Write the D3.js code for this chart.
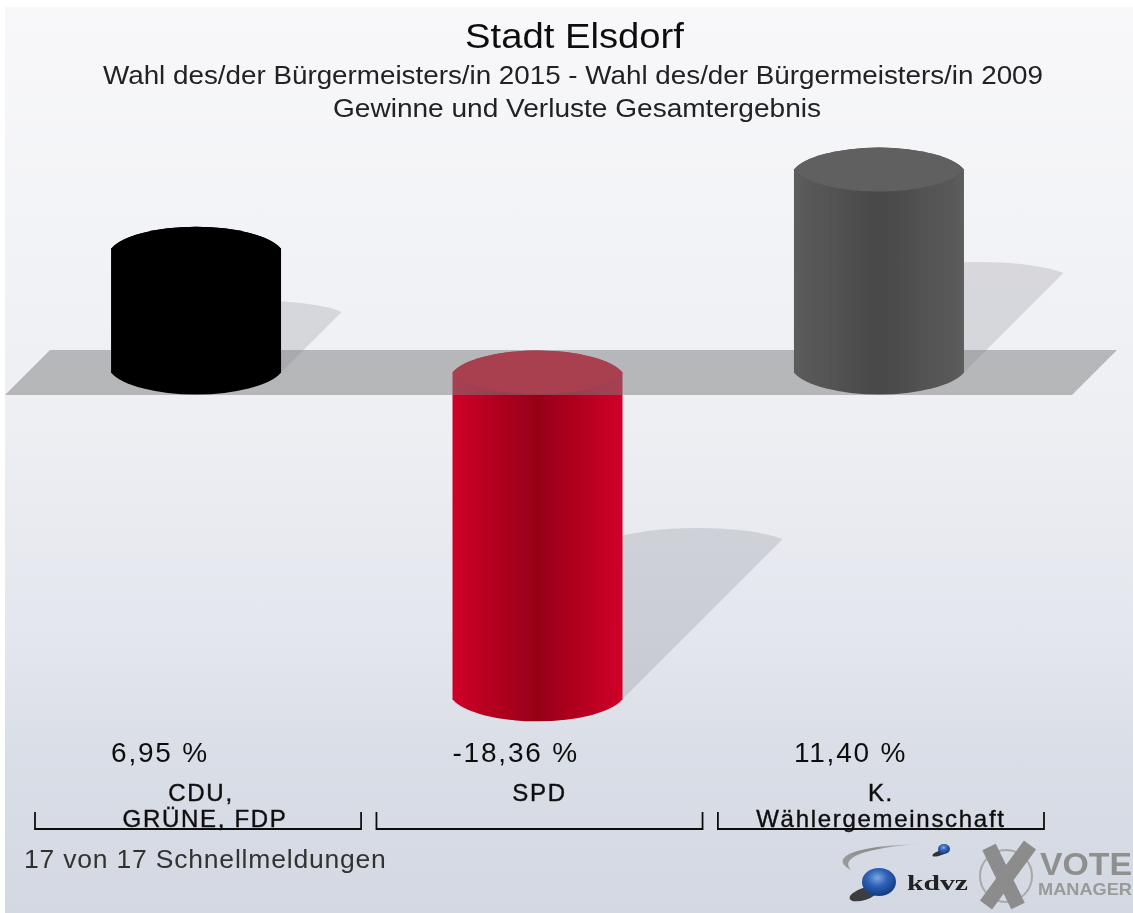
<!DOCTYPE html>
<html><head><meta charset="utf-8">
<script src="https://cdn.jsdelivr.net/npm/d3@7"></script>
<style>html,body{margin:0;padding:0;background:#fff;overflow:hidden}svg{display:block}text{font-family:"Liberation Sans",Arial,sans-serif}</style>
</head><body><svg id="c" width="1133" height="913"></svg>
<script>
const titleLines = ["Stadt Elsdorf","Wahl des/der Bürgermeisters/in 2015 - Wahl des/der Bürgermeisters/in 2009","Gewinne und Verluste Gesamtergebnis"];
const categories = ["CDU, GRÜNE, FDP","SPD","K. Wählergemeinschaft"];
const categoryLines = [["CDU,","GRÜNE, FDP"],["SPD"],["K.","Wählergemeinschaft"]];
const values = [6.95,-18.36,11.40];
const valueLabels = ["6,95 %","-18,36 %","11,40 %"];
const sideColors = [["#000000","#000000"],["#d00028","#960018"],["#5c5c5c","#484848"]];
const topColors = ["#000000","#d20020","#606060"];
const footer = "17 von 17 Schnellmeldungen";

const W=1133,H=913;
const svg=d3.select("#c");
const defs=svg.append("defs");
const bg=defs.append("linearGradient").attr("id","bg").attr("x1",0).attr("x2",0).attr("y1",0).attr("y2",1);
[[0,"#f8f8fa"],[.45,"#edeff3"],[.7,"#e3e6ed"],[.82,"#dadee7"],[1,"#d3d8e2"]].forEach(s=>bg.append("stop").attr("offset",s[0]).attr("stop-color",s[1]));
const blur=defs.append("filter").attr("id","soft").attr("x",0).attr("y",0).attr("width",1).attr("height",1);
blur.append("feGaussianBlur").attr("stdDeviation",0.6);
categories.forEach((c,i)=>{
  const g=defs.append("linearGradient").attr("id","side"+i);
  [[0,0],[.5,1],[1,0]].forEach(s=>g.append("stop").attr("offset",s[0]).attr("stop-color",sideColors[i][s[1]]));
});

const root=svg.append("g").attr("filter","url(#soft)");
root.append("rect").attr("x",5).attr("y",7).attr("width",W-5).attr("height",H-7).attr("fill","url(#bg)");

const x=d3.scaleBand().domain(categories).range([35,1044]).paddingInner(0.045);
const y=d3.scaleLinear().domain([0,1]).range([372.5,372.5-17.8]);
const hw=85, arcRx=88, arcRy=29.7;
const cx=c=>x(c)+x.bandwidth()/2-2;

// shadows
const shadowPath=(c,v)=>{
  const h=Math.abs(y(v)-y(0)), d=h*0.49, bx=cx(c)+hw, by=v>=0?y(0):y(v);
  return `M${bx},${by}L${bx+d},${by-d}A95,20 0 0 0 ${bx+d-2*hw},${by-d}L${bx-2*hw},${by}Z`;
};
root.selectAll(".shadow").data(categories).join("path").attr("class","shadow")
  .attr("d",(c,i)=>shadowPath(c,values[i])).attr("fill","#3c3c46").attr("fill-opacity",.14);

const body=(c,v)=>{
  const xc=cx(c), y0=Math.min(y(0),y(v)), y1=Math.max(y(0),y(v));
  return `M${xc-hw},${y0}A${arcRx},${arcRy} 0 0 1 ${xc+hw},${y0}L${xc+hw},${y1}A${arcRx},${arcRy} 0 0 1 ${xc-hw},${y1}Z`;
};
const lens=(c,v)=>{
  const xc=cx(c), y0=Math.min(y(0),y(v));
  return `M${xc-hw},${y0}A${arcRx},${arcRy} 0 0 1 ${xc+hw},${y0}A${arcRx},${arcRy} 0 0 1 ${xc-hw},${y0}Z`;
};
function cyl(sel,idx){
  idx.forEach(i=>{
    const c=categories[i],v=values[i];
    sel.append("path").attr("d",body(c,v)).attr("fill",`url(#side${i})`);
    sel.append("path").attr("d",lens(c,v)).attr("fill",topColors[i]);
  });
}
// negative bars sit under the ground plane, positive bars in front of it
cyl(root.append("g"),values.map((v,i)=>v<0?i:-1).filter(i=>i>=0));
root.append("path").attr("d","M50,350L1117,350L1072,395L5,395Z").attr("fill","#7d7d80").attr("fill-opacity",.5);
cyl(root.append("g"),values.map((v,i)=>v>=0?i:-1).filter(i=>i>=0));

// titles
const tt=root.append("g").attr("text-anchor","middle");
const fit=(s,w)=>s.attr("textLength",w).attr("lengthAdjust","spacingAndGlyphs");
fit(tt.append("text").attr("x",574.5).attr("y",47.5).attr("font-size",35).attr("fill","#111").text(titleLines[0]),219);
fit(tt.append("text").attr("x",573).attr("y",84).attr("font-size",26.5).attr("fill","#222").text(titleLines[1]),940);
fit(tt.append("text").attr("x",577).attr("y",117).attr("font-size",26.5).attr("fill","#222").text(titleLines[2]),488);

// value labels
root.selectAll(".val").data(valueLabels).join("text").attr("class","val")
  .attr("x",(d,i)=>cx(categories[i])-hw).attr("y",762).attr("font-size",28).attr("letter-spacing",1.8).attr("fill","#111").text(d=>d);

// brackets (band axis)
const br=root.append("g").attr("fill","none").attr("stroke","#111").attr("stroke-width",1.8);
categories.forEach(c=>br.append("path").attr("d",`M${x(c)},812V829H${x(c)+x.bandwidth()}V812`));

// category labels
categories.forEach((c,i)=>{
  const lines=categoryLines[i];
  lines.forEach((l,j)=>{
    root.append("text").attr("x",x(c)+x.bandwidth()/2+(i===0?(j===0?3:7):0))
      .attr("y",lines.length===1?801:801+j*26).attr("text-anchor","middle")
      .attr("font-size",24).attr("fill","#111").attr("stroke","#111").attr("stroke-width",.4).attr("letter-spacing",1.7).text(l);
  });
});

root.append("text").attr("x",24).attr("y",868).attr("font-size",26.5).attr("letter-spacing",.8).attr("fill","#333").text(footer);

// logos
const lg=root.append("g");
const ball=defs.append("radialGradient").attr("id","ball").attr("cx",.45).attr("cy",.35).attr("r",.65);
[[0,"#7fa8e0"],[.45,"#2f62b8"],[1,"#123a80"]].forEach(s=>ball.append("stop").attr("offset",s[0]).attr("stop-color",s[1]));
const sw=defs.append("linearGradient").attr("id","sw");
[[0,"#9a9a9a"],[.4,"#8a8a8a"],[1,"#d8dce4"]].forEach(s=>sw.append("stop").attr("offset",s[0]).attr("stop-color",s[1]));
lg.append("path").attr("d","M851,870C832,860 842,846 922,844C862,848 840,858 851,870Z").attr("fill","url(#sw)");
lg.append("ellipse").attr("cx",864).attr("cy",894).attr("rx",15).attr("ry",6).attr("transform","rotate(-18 864 894)").attr("fill","#222").attr("fill-opacity",.85);
lg.append("ellipse").attr("cx",879).attr("cy",882).attr("rx",17).attr("ry",14).attr("fill","url(#ball)");
lg.append("ellipse").attr("cx",940).attr("cy",853).attr("rx",8).attr("ry",2.5).attr("transform","rotate(-20 940 853)").attr("fill","#333");
lg.append("ellipse").attr("cx",944).attr("cy",849).attr("rx",6).attr("ry",5).attr("fill","url(#ball)");
fit(lg.append("text").attr("x",907).attr("y",890).attr("style","font-family:'Liberation Serif',serif").attr("font-weight",700).attr("font-size",22).attr("fill","#222").text("kdvz"),61);
lg.append("circle").attr("cx",1006).attr("cy",876).attr("r",26).attr("fill","none").attr("stroke","#a8a8a8").attr("stroke-width",2);
lg.append("path").attr("d","M989,847L1018,906M1030,845L986,905").attr("stroke","#8c8c8c").attr("stroke-width",15).attr("fill","none");
fit(lg.append("text").attr("x",1040).attr("y",875).attr("font-weight",700).attr("font-size",31).attr("fill","#8f8f8f").text("VOTE"),92);
fit(lg.append("text").attr("x",1038).attr("y",895).attr("font-weight",700).attr("font-size",16.5).attr("fill","#9a9a9a").text("MANAGER"),94);
</script></body></html>
